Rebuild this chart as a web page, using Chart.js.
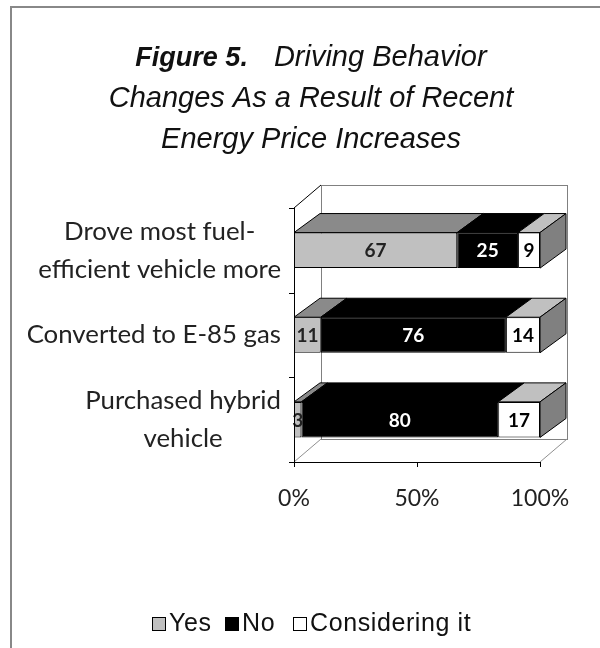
<!DOCTYPE html>
<html><head><meta charset="utf-8">
<script src="https://cdn.jsdelivr.net/npm/chart.js@4/dist/chart.umd.min.js"></script>
<style>html,body{margin:0;padding:0;background:#fff;}canvas{display:block;}</style>
</head><body>
<canvas id="c" width="600" height="648"></canvas>
<script>
// ---- data ----
const titleBold = "Figure 5.";
const titleLines = ["Driving Behavior", "Changes As a Result of Recent", "Energy Price Increases"];
const categories = [["Drove most fuel-", "efficient vehicle more"], ["Converted to E-85 gas"], ["Purchased hybrid", "vehicle"]];
const seriesNames = ["Yes", "No", "Considering it"];
const yesValues = [67, 11, 3];
const noValues = [25, 76, 80];
const consideringValues = [9, 14, 17];
const tickValues = [0, 50, 100];
const tickLabels = ["0%", "50%", "100%"];

// ---- styles ----
const frontColors = ["#c0c0c0", "#000000", "#ffffff"];
const topColors = ["#8a8a8a", "#000000", "#c0c0c0"];
const sideColor = "#808080";
const labelColors = ["#222222", "#ffffff", "#000000"];
const BAR_D = {x: 26, y: -19};
const WALL_D = {x: 27, y: -23};
const legendBoxX = [152, 225, 293];

const rawSeries = [yesValues, noValues, consideringValues];
const totals = categories.map((_, i) => rawSeries.reduce((s, arr) => s + arr[i], 0));
const shares = rawSeries.map(arr => arr.map((v, i) => v / totals[i] * 100));

function line(ctx, x1, y1, x2, y2, color) {
  ctx.strokeStyle = color; ctx.lineWidth = 1;
  ctx.beginPath(); ctx.moveTo(x1, y1); ctx.lineTo(x2, y2); ctx.stroke();
}

const scene = {
  id: 'scene',
  beforeDraw(chart) {
    const ctx = chart.ctx, a = chart.chartArea;
    const L = a.left, R = a.right, T = a.top, B = a.bottom;
    ctx.save();
    ctx.fillStyle = '#fff'; ctx.fillRect(0, 0, chart.width, chart.height);
    ctx.fillStyle = '#888'; ctx.fillRect(10, 6, 590, 2); ctx.fillRect(10, 6, 2, 642);
    // back wall
    ctx.strokeStyle = '#808080'; ctx.lineWidth = 1;
    ctx.strokeRect(Math.round(L + WALL_D.x) + .5, Math.round(T + WALL_D.y) + .5, Math.round(R - L), Math.round(B - T));
    // floor / side edges
    line(ctx, L, B, L + WALL_D.x, B + WALL_D.y, '#909090');
    line(ctx, R, B, R + WALL_D.x, B + WALL_D.y, '#909090');
    line(ctx, L, T, L + WALL_D.x, T + WALL_D.y, '#000');
    ctx.restore();
  },
  afterDatasetsDraw(chart) {
    const ctx = chart.ctx, a = chart.chartArea;
    const L = a.left, R = a.right, T = a.top, B = a.bottom;
    const xs = chart.scales.x, ys = chart.scales.y;
    ctx.save();
    // 3D faces
    categories.forEach((_, i) => {
      rawSeries.forEach((arr, d) => {
        const el = chart.getDatasetMeta(d).data[i];
        const p = el.getProps(['x', 'y', 'base', 'height'], true);
        const x0 = Math.min(p.x, p.base), x1 = Math.max(p.x, p.base);
        const top = p.y - p.height / 2, bot = p.y + p.height / 2;
        ctx.fillStyle = topColors[d];
        ctx.strokeStyle = '#000'; ctx.lineWidth = 1;
        ctx.beginPath();
        ctx.moveTo(x0, top); ctx.lineTo(x1, top);
        ctx.lineTo(x1 + BAR_D.x, top + BAR_D.y); ctx.lineTo(x0 + BAR_D.x, top + BAR_D.y);
        ctx.closePath(); ctx.fill(); ctx.stroke();
        if (d === rawSeries.length - 1) {
          ctx.fillStyle = sideColor;
          ctx.beginPath();
          ctx.moveTo(x1, top); ctx.lineTo(x1 + BAR_D.x, top + BAR_D.y);
          ctx.lineTo(x1 + BAR_D.x, bot + BAR_D.y); ctx.lineTo(x1, bot);
          ctx.closePath(); ctx.fill(); ctx.stroke();
        }
      });
    });
    // data labels
    ctx.font = 'bold 19px Lato';
    ctx.textAlign = 'center'; ctx.textBaseline = 'middle';
    categories.forEach((_, i) => {
      rawSeries.forEach((arr, d) => {
        const el = chart.getDatasetMeta(d).data[i];
        const p = el.getProps(['x', 'y', 'base'], true);
        ctx.fillStyle = labelColors[d];
        ctx.fillText(String(arr[i]), (p.x + p.base) / 2, p.y + 1);
      });
    });
    // axes
    const xL = Math.round(L) + .5, yB = Math.round(B) + .5;
    line(ctx, xL, T, xL, B + 1, '#000');
    line(ctx, L, yB, R + 1, yB, '#000');
    const bounds = [T];
    for (let i = 0; i < categories.length - 1; i++) bounds.push((ys.getPixelForValue(i) + ys.getPixelForValue(i + 1)) / 2);
    bounds.push(B);
    bounds.forEach(y => line(ctx, L - 5, Math.round(y) + .5, L, Math.round(y) + .5, '#000'));
    tickValues.forEach(v => { const x = Math.round(xs.getPixelForValue(v)) + .5; line(ctx, x, B, x, B + 5, '#000'); });
    // tick labels
    ctx.font = '23px Lato'; ctx.fillStyle = '#222';
    tickValues.forEach((v, k) => ctx.fillText(tickLabels[k], xs.getPixelForValue(v), 499));
    // category labels
    let fs = 22;
    ctx.font = fs + 'px Lato';
    fs = fs * 254 / ctx.measureText("Converted to E-85 gas").width;
    ctx.font = fs.toFixed(1) + 'px Lato';
    ctx.fillStyle = '#222';
    categories.forEach((lines, i) => {
      const cy = ys.getPixelForValue(i);
      const w = Math.max(...lines.map(s => ctx.measureText(s).width));
      const cx = L - 13 - w / 2;
      lines.forEach((s, j) => ctx.fillText(s, cx, cy + (j - (lines.length - 1) / 2) * 38));
    });
    // title
    ctx.textBaseline = 'alphabetic'; ctx.textAlign = 'left'; ctx.fillStyle = '#111';
    const tcx = 311;
    ctx.font = 'italic bold 27px "Liberation Sans"';
    const wb = ctx.measureText(titleBold).width;
    const gap = 26;
    ctx.font = 'italic 29px "Liberation Sans"';
    const w1 = ctx.measureText(titleLines[0]).width;
    let sx = tcx - (wb + gap + w1) / 2;
    ctx.font = 'italic bold 27px "Liberation Sans"';
    ctx.fillText(titleBold, sx, 66);
    ctx.font = 'italic 29px "Liberation Sans"';
    ctx.fillText(titleLines[0], sx + wb + gap, 66);
    ctx.textAlign = 'center';
    ctx.fillText(titleLines[1], tcx, 107);
    ctx.fillText(titleLines[2], tcx, 148);
    // legend
    ctx.font = '25px "Liberation Sans"'; ctx.textAlign = 'left';
    if ('letterSpacing' in ctx) ctx.letterSpacing = '0.6px';
    seriesNames.forEach((s, k) => {
      const bx = legendBoxX[k];
      ctx.fillStyle = frontColors[k];
      ctx.fillRect(bx, 617, 14, 14);
      ctx.strokeStyle = '#000'; ctx.lineWidth = 1;
      ctx.strokeRect(bx + .5, 617.5, 13, 13);
      ctx.fillStyle = '#111';
      ctx.fillText(s, bx + 17, 631);
    });
    ctx.restore();
  }
};

new Chart(document.getElementById('c'), {
  type: 'bar',
  data: {
    labels: categories,
    datasets: seriesNames.map((name, d) => ({
      label: name,
      data: shares[d],
      backgroundColor: frontColors[d],
      borderColor: '#000',
      borderWidth: 1,
      borderSkipped: false,
      barPercentage: 0.42,
      categoryPercentage: 1
    }))
  },
  options: {
    indexAxis: 'y',
    responsive: false,
    animation: false,
    devicePixelRatio: 1,
    layout: {padding: {left: 294, right: 60, top: 208, bottom: 186}},
    scales: {
      x: {stacked: true, min: 0, max: 100, display: false},
      y: {stacked: true, display: false}
    },
    plugins: {legend: {display: false}, title: {display: false}, tooltip: {enabled: false}}
  },
  plugins: [scene]
});
</script>
</body></html>
